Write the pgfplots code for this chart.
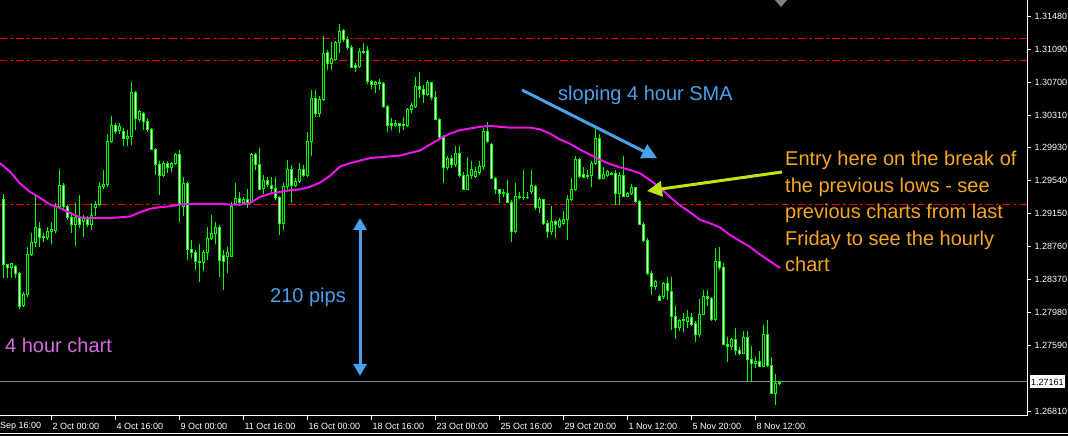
\documentclass[border=0pt]{standalone}
\usepackage{fontspec}
\setmainfont{Liberation Sans}
\usepackage{pgfplots}
\usepackage{pgfplotstable}
\pgfplotsset{compat=1.18}
\usetikzlibrary{arrows.meta}

\definecolor{cgreen}{RGB}{0,255,0}
\definecolor{sma}{RGB}{235,20,235}
\definecolor{lvl}{RGB}{240,0,0}
\definecolor{bidline}{RGB}{120,136,153}
\definecolor{noteblue}{RGB}{74,160,235}
\definecolor{noteorange}{RGB}{245,166,35}
\definecolor{notelime}{RGB}{190,228,20}
\definecolor{noteviolet}{RGB}{210,110,220}

% 4H candles: index, open, high, low, close
\pgfplotstableread{
i O H L C
0 1.2931 1.2938 1.2838 1.2854
1 1.2854 1.2855 1.2838 1.2851
2 1.2851 1.2856 1.2838 1.2855
3 1.2852 1.2854 1.2838 1.2844
4 1.2844 1.2845 1.2802 1.2805
5 1.2806 1.2822 1.2804 1.2819
6 1.2819 1.2875 1.2816 1.2866
7 1.2866 1.2891 1.2864 1.2880
8 1.2880 1.2936 1.2875 1.2898
9 1.2897 1.2905 1.2875 1.2886
10 1.2886 1.2891 1.2881 1.2887
11 1.2886 1.2899 1.2883 1.2893
12 1.2893 1.2905 1.2879 1.2895
13 1.2894 1.2927 1.2891 1.2923
14 1.2923 1.2967 1.2921 1.2948
15 1.2948 1.2950 1.2917 1.2923
16 1.2923 1.2925 1.2907 1.2910
17 1.2910 1.2916 1.2891 1.2902
18 1.2902 1.2927 1.2876 1.2910
19 1.2910 1.2936 1.2897 1.2902
20 1.2905 1.2913 1.2887 1.2908
21 1.2907 1.2911 1.2899 1.2902
22 1.2901 1.2927 1.2895 1.2912
23 1.2922 1.2929 1.2911 1.2925
24 1.2925 1.2952 1.2923 1.2946
25 1.2946 1.2966 1.2944 1.2949
26 1.2949 1.3009 1.2946 1.3000
27 1.3000 1.3030 1.2998 1.3018
28 1.3018 1.3021 1.3009 1.3012
29 1.3013 1.3021 1.3009 1.3017
30 1.3012 1.3015 1.2994 1.3003
31 1.3003 1.3013 1.2994 1.3006
32 1.3005 1.3070 1.2996 1.3057
33 1.3057 1.3059 1.3013 1.3027
34 1.3026 1.3037 1.3023 1.3035
35 1.3033 1.3035 1.3013 1.3023
36 1.3023 1.3027 1.3011 1.3014
37 1.3014 1.3015 1.2989 1.2990
38 1.2990 1.2992 1.2960 1.2973
39 1.2973 1.2976 1.2936 1.2960
40 1.2960 1.2976 1.2958 1.2974
41 1.2974 1.2976 1.2962 1.2969
42 1.2969 1.2975 1.2964 1.2974
43 1.2974 1.2986 1.2972 1.2984
44 1.2984 1.2990 1.2905 1.2925
45 1.2923 1.2958 1.2911 1.2950
46 1.2950 1.2952 1.2860 1.2872
47 1.2872 1.2883 1.2862 1.2868
48 1.2868 1.2871 1.2848 1.2858
49 1.2858 1.2879 1.2834 1.2856
50 1.2856 1.2871 1.2846 1.2868
51 1.2868 1.2899 1.2860 1.2885
52 1.2885 1.2913 1.2883 1.2891
53 1.2891 1.2905 1.2879 1.2898
54 1.2898 1.2901 1.2840 1.2859
55 1.2865 1.2871 1.2824 1.2858
56 1.2864 1.2875 1.2844 1.2868
57 1.2864 1.2928 1.2863 1.2923
58 1.2926 1.2950 1.2925 1.2932
59 1.2932 1.2940 1.2923 1.2927
60 1.2927 1.2934 1.2925 1.2931
61 1.2931 1.2944 1.2921 1.2927
62 1.2928 1.2986 1.2927 1.2984
63 1.2984 1.2986 1.2966 1.2973
64 1.2972 1.2992 1.2942 1.2943
65 1.2944 1.2960 1.2938 1.2954
66 1.2954 1.2958 1.2946 1.2949
67 1.2948 1.2958 1.2938 1.2944
68 1.2944 1.2958 1.2931 1.2933
69 1.2933 1.2935 1.2889 1.2903
70 1.2903 1.2950 1.2895 1.2946
71 1.2946 1.2978 1.2942 1.2967
72 1.2967 1.2972 1.2927 1.2948
73 1.2948 1.2956 1.2946 1.2952
74 1.2952 1.2974 1.2950 1.2966
75 1.2966 1.2972 1.2958 1.2960
76 1.2960 1.3011 1.2958 1.3000
77 1.3000 1.3061 1.2982 1.3050
78 1.3050 1.3060 1.3029 1.3033
79 1.3033 1.3053 1.3029 1.3049
80 1.3049 1.3124 1.3047 1.3104
81 1.3105 1.3108 1.3084 1.3092
82 1.3092 1.3117 1.3084 1.3098
83 1.3097 1.3119 1.3096 1.3117
84 1.3117 1.3138 1.3104 1.3130
85 1.3131 1.3133 1.3117 1.3120
86 1.3120 1.3124 1.3108 1.3111
87 1.3111 1.3114 1.3086 1.3087
88 1.3090 1.3092 1.3082 1.3087
89 1.3088 1.3110 1.3086 1.3106
90 1.3106 1.3116 1.3103 1.3105
91 1.3107 1.3113 1.3068 1.3070
92 1.3071 1.3072 1.3062 1.3067
93 1.3067 1.3071 1.3057 1.3069
94 1.3069 1.3074 1.3060 1.3068
95 1.3068 1.3070 1.3039 1.3041
96 1.3041 1.3043 1.3011 1.3019
97 1.3021 1.3027 1.3013 1.3018
98 1.3018 1.3025 1.3017 1.3021
99 1.3021 1.3021 1.3010 1.3019
100 1.3018 1.3029 1.3013 1.3020
101 1.3019 1.3039 1.3017 1.3037
102 1.3037 1.3045 1.3033 1.3042
103 1.3041 1.3076 1.3039 1.3065
104 1.3065 1.3082 1.3051 1.3061
105 1.3061 1.3066 1.3045 1.3055
106 1.3055 1.3072 1.3053 1.3069
107 1.3069 1.3070 1.3049 1.3052
108 1.3052 1.3059 1.3025 1.3026
109 1.3026 1.3027 1.3002 1.3004
110 1.3005 1.3007 1.2950 1.2969
111 1.2969 1.2982 1.2966 1.2979
112 1.2979 1.2984 1.2968 1.2973
113 1.2973 1.2994 1.2970 1.2986
114 1.2986 1.2994 1.2958 1.2960
115 1.2960 1.2964 1.2942 1.2943
116 1.2943 1.2981 1.2942 1.2959
117 1.2959 1.2976 1.2955 1.2966
118 1.2958 1.2970 1.2956 1.2964
119 1.2963 1.2976 1.2960 1.2970
120 1.2970 1.3015 1.2966 1.3011
121 1.3011 1.3023 1.2998 1.3000
122 1.2996 1.2998 1.2955 1.2956
123 1.2956 1.2958 1.2938 1.2943
124 1.2943 1.2944 1.2927 1.2938
125 1.2938 1.2944 1.2934 1.2939
126 1.2938 1.2954 1.2927 1.2927
127 1.2927 1.2931 1.2881 1.2893
128 1.2893 1.2950 1.2891 1.2935
129 1.2935 1.2940 1.2932 1.2933
130 1.2934 1.2966 1.2930 1.2933
131 1.2933 1.2940 1.2932 1.2934
132 1.2940 1.2966 1.2938 1.2948
133 1.2947 1.2948 1.2919 1.2921
134 1.2921 1.2934 1.2915 1.2931
135 1.2931 1.2932 1.2901 1.2903
136 1.2903 1.2907 1.2885 1.2893
137 1.2893 1.2923 1.2889 1.2905
138 1.2905 1.2907 1.2885 1.2902
139 1.2899 1.2909 1.2897 1.2906
140 1.2903 1.2917 1.2901 1.2907
141 1.2907 1.2936 1.2883 1.2931
142 1.2931 1.2956 1.2929 1.2943
143 1.2943 1.2982 1.2941 1.2978
144 1.2978 1.2980 1.2956 1.2958
145 1.2961 1.2970 1.2956 1.2957
146 1.2958 1.2966 1.2955 1.2960
147 1.2959 1.2976 1.2946 1.2974
148 1.2974 1.3015 1.2972 1.3003
149 1.3003 1.3009 1.2954 1.2956
150 1.2956 1.2970 1.2955 1.2961
151 1.2959 1.2966 1.2958 1.2964
152 1.2962 1.2964 1.2960 1.2961
153 1.2962 1.2966 1.2924 1.2938
154 1.2938 1.2964 1.2924 1.2960
155 1.2960 1.2982 1.2934 1.2935
156 1.2935 1.2940 1.2934 1.2938
157 1.2938 1.2949 1.2936 1.2945
158 1.2945 1.2946 1.2927 1.2929
159 1.2929 1.2931 1.2901 1.2902
160 1.2902 1.2905 1.2881 1.2883
161 1.2883 1.2885 1.2842 1.2844
162 1.2844 1.2846 1.2818 1.2828
163 1.2828 1.2836 1.2824 1.2834
164 1.2816 1.2818 1.2811 1.2812
165 1.2816 1.2834 1.2814 1.2832
166 1.2832 1.2840 1.2812 1.2824
167 1.2822 1.2840 1.2777 1.2793
168 1.2793 1.2805 1.2766 1.2780
169 1.2780 1.2790 1.2776 1.2788
170 1.2788 1.2797 1.2774 1.2789
171 1.2787 1.2801 1.2779 1.2791
172 1.2791 1.2797 1.2781 1.2783
173 1.2784 1.2787 1.2762 1.2771
174 1.2771 1.2813 1.2769 1.2795
175 1.2795 1.2824 1.2794 1.2816
176 1.2816 1.2824 1.2805 1.2814
177 1.2814 1.2816 1.2787 1.2789
178 1.2789 1.2874 1.2787 1.2858
179 1.2858 1.2875 1.2848 1.2851
180 1.2851 1.2856 1.2759 1.2760
181 1.2760 1.2768 1.2739 1.2757
182 1.2757 1.2767 1.2753 1.2765
183 1.2765 1.2779 1.2747 1.2753
184 1.2753 1.2757 1.2747 1.2749
185 1.2749 1.2775 1.2748 1.2768
186 1.2768 1.2775 1.2716 1.2742
187 1.2742 1.2758 1.2715 1.2737
188 1.2737 1.2745 1.2732 1.2740
189 1.2740 1.2752 1.2733 1.2734
190 1.2734 1.2783 1.2733 1.2771
191 1.2771 1.2789 1.2733 1.2735
192 1.2735 1.2745 1.2701 1.2702
193 1.2702 1.2725 1.2688 1.2713
194 1.2713 1.2716 1.2712 1.2715
}\candles

\newcommand{\tickfont}{\fontsize{9}{10}\selectfont}
\newcommand{\notefont}{\fontsize{20}{26.5}\selectfont}

\begin{document}
\begin{tikzpicture}[x=1pt,y=1pt]
\fill[black] (0,-20) rectangle (1068,416);
\useasboundingbox (0,-20) rectangle (1068,416);
\begin{axis}[
    at={(0,0)}, anchor=south west,
    scale only axis, width=1027pt, height=416pt,
    xmin=-0.75, xmax=256, ymin=1.26751, ymax=1.31669,
    axis y line*=right, axis x line*=bottom,
    axis line style={white, line width=1pt, -},
    tick align=outside, major tick length=4pt,
    tick style={white, line width=0.8pt},
    xtick={12,28,...,188},
    xticklabels={2 Oct 00:00, 4 Oct 16:00, 9 Oct 00:00, 11 Oct 16:00,
        16 Oct 00:00, 18 Oct 16:00, 23 Oct 00:00, 25 Oct 16:00,
        29 Oct 20:00, 1 Nov 12:00, 5 Nov 20:00, 8 Nov 12:00},
    xticklabel style={anchor=north west, xshift=-2pt, text=white, font=\tickfont},
    ytick={1.26810,1.27590,1.27980,1.28370,1.28760,1.29150,1.29540,
        1.29930,1.30310,1.30700,1.31090,1.31480},
    yticklabel style={text=white, font=\tickfont,
        /pgf/number format/.cd, fixed, fixed zerofill, precision=5,
        assume math mode=true},
    clip=true,
]
% support / resistance lines
\addplot[draw=lvl, line width=1.1pt, dash pattern=on 8pt off 3pt on 3pt off 3pt]
    coordinates {(-1,1.31214) (260,1.31214)};
\addplot[draw=lvl, line width=1.1pt, dash pattern=on 8pt off 3pt on 3pt off 3pt]
    coordinates {(-1,1.30954) (260,1.30954)};
\addplot[draw=lvl, line width=1.1pt, dash pattern=on 8pt off 3pt on 3pt off 3pt]
    coordinates {(-1,1.29250) (260,1.29250)};
\addplot[draw=bidline, line width=1pt] coordinates {(-1,1.27161) (260,1.27161)};

% candles
\pgfplotstablegetrowsof{\candles}
\pgfmathtruncatemacro\nrows{\pgfplotsretval-1}
\pgfplotsforeachungrouped \r in {0,...,\nrows}{%
  \pgfplotstablegetelem{\r}{i}\of\candles \let\ci\pgfplotsretval
  \pgfplotstablegetelem{\r}{O}\of\candles \let\co\pgfplotsretval
  \pgfplotstablegetelem{\r}{H}\of\candles \let\ch\pgfplotsretval
  \pgfplotstablegetelem{\r}{L}\of\candles \let\cl\pgfplotsretval
  \pgfplotstablegetelem{\r}{C}\of\candles \let\cc\pgfplotsretval
  \ifdim\cc pt<\co pt \def\cfill{white}\else\def\cfill{black}\fi
  \edef\temp{%
    \noexpand\draw[cgreen, line width=1pt] (axis cs:\ci,\cl) -- (axis cs:\ci,\ch);
    \noexpand\draw[cgreen, line width=1pt, fill=\cfill]
      ([xshift=-1pt]axis cs:\ci,\co) rectangle ([xshift=1pt]axis cs:\ci,\cc);}%
  \temp
}

% 4 hour SMA
\addplot[sma, line width=2pt] coordinates {
(-0.75,1.2974) (1.75,1.2964) (4.25,1.2950) (6.75,1.2940) (9.25,1.2933)
(11.75,1.2925) (14.25,1.2921) (16.75,1.2915) (19.25,1.2910) (21.75,1.2909)
(24.25,1.2909) (26.75,1.2909) (29.25,1.2910) (31.75,1.2911) (34.25,1.2916)
(36.75,1.2920) (39.25,1.2922) (41.75,1.2923) (44.25,1.2925) (46.75,1.2926)
(49.25,1.2926) (51.75,1.2926) (54.25,1.2926) (56.75,1.2925) (59.25,1.2925)
(61.75,1.2927) (64.25,1.2934) (66.75,1.2938) (69.25,1.2940) (71.75,1.2942)
(74.25,1.2943) (76.75,1.2946) (79.25,1.2951) (81.75,1.2959) (84.25,1.2970)
(86.75,1.2974) (89.25,1.2977) (91.75,1.2980) (94.25,1.2981) (96.75,1.2982)
(99.25,1.2983) (101.75,1.2986) (104.25,1.2989) (106.75,1.2996) (109.25,1.3003)
(111.75,1.3009) (114.25,1.3013) (116.75,1.3015) (119.25,1.3017) (121.75,1.3018)
(124.25,1.3017) (126.75,1.3016) (129.25,1.3016) (131.75,1.3016) (134.25,1.3014)
(136.75,1.3009) (139.25,1.3002) (141.75,1.2997) (144.25,1.2990) (146.75,1.2984)
(149.25,1.2978) (151.75,1.2973) (154.25,1.2969) (156.75,1.2966) (159.25,1.2962)
(161.75,1.2954) (164.25,1.2945) (166.75,1.2934) (169.25,1.2924) (171.75,1.2916)
(174.25,1.2907) (176.75,1.2903) (179.25,1.2898) (181.75,1.2889) (184.25,1.2882)
(186.75,1.2875) (189.25,1.2866) (191.75,1.2858) (194.25,1.2850)
};
\end{axis}

% price label, partial first date, window edge, shift marker
\node[fill=white, text=black, anchor=west, inner sep=1pt, minimum height=13pt,
      font=\tickfont] at (1030,34) {1.27161};
\node[anchor=north west, inner sep=0pt, text=white, font=\tickfont] at (0,-6) {Sep 16:00};
\draw[white, line width=1pt] (0,-17.5) -- (1068,-17.5);
\fill[gray] (775,416) -- (787,416) -- (781,409) -- cycle;

% annotations
\draw[noteblue, line width=3pt, -{Triangle[length=15pt,width=15pt]}] (522,326) -- (657,258);
\node[anchor=base west, inner sep=0pt, text=noteblue, font=\notefont] at (558,315) {sloping 4 hour SMA};
\draw[noteblue, line width=3pt, {Triangle[length=12pt,width=13pt]}-{Triangle[length=12pt,width=13pt]}] (360,198) -- (360,40);
\node[anchor=base west, inner sep=0pt, text=noteblue, font=\notefont] at (270,113) {210 pips};
\node[anchor=base west, inner sep=0pt, text=noteviolet, font=\notefont] at (5,63) {4 hour chart};
\draw[notelime, line width=3pt, -{Triangle[length=15pt,width=15pt]}] (782,244) -- (647,225);
\begin{scope}[every node/.style={anchor=base west, inner sep=0pt, text=noteorange, font=\notefont}]
\node at (785,250) {Entry here on the break of};
\node at (785,223.5) {the previous lows - see};
\node at (785,197) {previous charts from last};
\node at (785,170.5) {Friday to see the hourly};
\node at (785,144) {chart};
\end{scope}
\end{tikzpicture}
\end{document}
